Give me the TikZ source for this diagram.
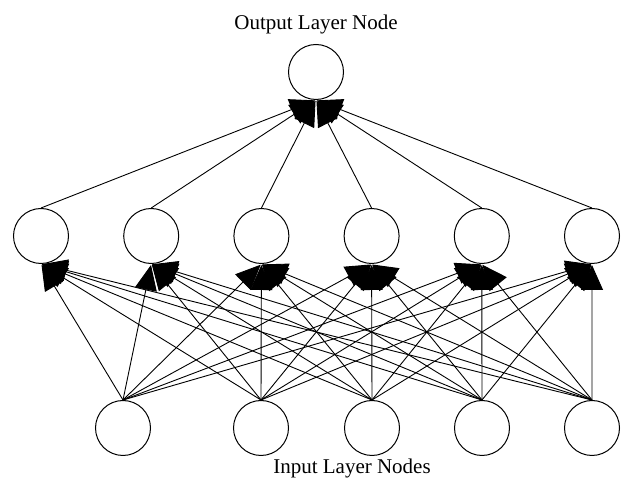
\documentclass[tikz,border=0pt]{standalone}
\usepackage{fontspec}
\setmainfont{Liberation Serif}
\usetikzlibrary{arrows.meta}

\def\layersep{110.2}

\begin{document}
\begin{tikzpicture}[x=1pt,y=1pt,shorten >=1pt,-{Triangle[length=25pt,width=22pt]},draw=black,line width=0.9pt]
    \tikzstyle{neuron}=[circle,draw=black,minimum size=55pt,inner sep=0pt,line width=1pt]
    \tikzstyle{annot}=[font=\fontsize{21}{25}\selectfont, anchor=base]
    \useasboundingbox (0,0) rectangle (622,479);

    % Draw the input layer nodes
    \foreach \name / \x in {1/123,2/261,3/372,4/482,5/592}
        \node[neuron] (I-\name) at (\x,51) {};

    % Draw the hidden layer nodes
    \foreach \name in {1,...,6}
        \node[neuron] (H-\name) at ({41+(\name-1)*\layersep},243) {};

    % Draw the output layer node
    \node[neuron] (O) at (316,407) {};

    % Connect every input node with every hidden node
    \foreach \source in {1,...,5}
        \foreach \dest in {1,...,6}
            \path (I-\source.north) edge (H-\dest.south);

    % Connect every hidden node with the output node
    \foreach \source in {1,...,6}
        \path (H-\source.north) edge (O.south);

    % Annotate the layers
    \node[annot] (ol) at (316,449) {Output Layer Node};
    \node[annot] (il) at (352,5) {Input Layer Nodes};
\end{tikzpicture}
\end{document}
